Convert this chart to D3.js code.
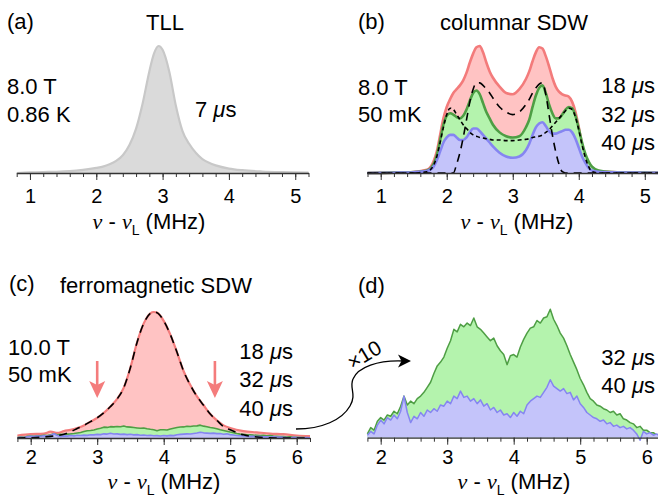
<!DOCTYPE html>
<html>
<head>
<meta charset="utf-8">
<script src="https://cdnjs.cloudflare.com/ajax/libs/d3/7.8.5/d3.min.js"></script>
<style>
  body { margin: 0; background: #fff; }
  svg { font-family: "Liberation Sans", Arial, sans-serif; }
  .axis path, .axis line { stroke: #333; }
  .axis path { stroke-width: 1.3px; }
</style>
</head>
<body>
<div id="chart"></div>
<script>
// ---- panel (a): TLL, 8.0 T, 0.86 K, 7 us
const aFreq = [0.8, 1.0, 1.2, 1.4, 1.6, 1.8, 2.0, 2.1, 2.2, 2.3, 2.4, 2.5, 2.6, 2.7, 2.8, 2.87, 2.94, 3.0, 3.1, 3.2, 3.3, 3.4, 3.5, 3.6, 3.7, 3.8, 4.0, 4.2, 4.5, 4.8, 5.2];
const aTLL  = [0.0, 0.005, 0.008, 0.01, 0.015, 0.025, 0.04, 0.05, 0.068, 0.095, 0.14, 0.22, 0.35, 0.55, 0.8, 0.94, 1.0, 0.97, 0.8, 0.53, 0.33, 0.23, 0.16, 0.11, 0.08, 0.06, 0.035, 0.022, 0.012, 0.007, 0.004];

// ---- panel (b): columnar SDW, 8.0 T, 50 mK
const bFreq = [0.8, 1.2, 1.5, 1.7,
  1.8, 1.85, 1.9, 1.95, 2.0, 2.05, 2.1, 2.15, 2.2, 2.25, 2.3, 2.35, 2.4, 2.45, 2.5, 2.55, 2.6, 2.65, 2.7,
  2.8, 2.9, 3.0, 3.1, 3.2,
  3.25, 3.3, 3.35, 3.4, 3.45, 3.5, 3.55, 3.6, 3.65, 3.7, 3.75, 3.8, 3.85, 3.9, 3.95, 4.0, 4.05, 4.1, 4.15, 4.2,
  4.3, 4.5, 5.0, 5.2];
const b18 = [0, 0.003, 0.008, 0.025,
  0.09, 0.17, 0.3, 0.43, 0.52, 0.58, 0.63, 0.66, 0.69, 0.73, 0.79, 0.87, 0.94, 0.99, 1.0, 0.95, 0.87, 0.8, 0.75,
  0.68, 0.63, 0.62, 0.66, 0.74,
  0.8, 0.88, 0.95, 0.99, 0.98, 0.92, 0.84, 0.75, 0.68, 0.64, 0.62, 0.61, 0.6, 0.56, 0.48, 0.36, 0.22, 0.12, 0.06, 0.03,
  0.015, 0.008, 0.003, 0.002];
const b32 = [0, 0.003, 0.008, 0.02,
  0.07, 0.14, 0.26, 0.38, 0.45, 0.47, 0.46, 0.44, 0.43, 0.45, 0.5, 0.57, 0.63, 0.65, 0.62, 0.55, 0.48, 0.43, 0.38,
  0.32, 0.29, 0.28, 0.29, 0.36,
  0.42, 0.52, 0.61, 0.67, 0.69, 0.63, 0.54, 0.47, 0.43, 0.43, 0.46, 0.5, 0.52, 0.51, 0.45, 0.35, 0.24, 0.15, 0.09, 0.05,
  0.02, 0.008, 0.003, 0.002];
const b40 = [0, 0.002, 0.006, 0.015,
  0.05, 0.1, 0.17, 0.24, 0.28, 0.3, 0.3, 0.28, 0.26, 0.26, 0.28, 0.32, 0.35, 0.35, 0.33, 0.3, 0.27, 0.24, 0.21,
  0.16, 0.13, 0.12, 0.13, 0.18,
  0.23, 0.3, 0.36, 0.39, 0.4, 0.37, 0.33, 0.31, 0.31, 0.32, 0.33, 0.34, 0.34, 0.32, 0.27, 0.2, 0.13, 0.08, 0.04, 0.02,
  0.01, 0.005, 0.002, 0.001];
// simulated spectra (dashed)
const bSimLong = [0, 0, 0, 0,
  0, 0, 0, 0, 0, 0, 0, 0.07, 0.16, 0.28, 0.42, 0.56, 0.66, 0.71, 0.71, 0.69, 0.66, 0.63, 0.59,
  0.52, 0.48, 0.46, 0.48, 0.54,
  0.58, 0.63, 0.67, 0.7, 0.71, 0.62, 0.46, 0.3, 0.17, 0.07, 0.01, 0, 0, 0, 0, 0, 0, 0, 0, 0,
  0, 0, 0, 0];
const bSimShort = [0, 0, 0, 0.01,
  0.06, 0.13, 0.24, 0.36, 0.46, 0.51, 0.5, 0.46, 0.42, 0.38, 0.35, 0.32, 0.3, 0.29, 0.28, 0.275, 0.27, 0.265, 0.26,
  0.26, 0.255, 0.255, 0.26, 0.265,
  0.27, 0.28, 0.285, 0.29, 0.3, 0.32, 0.34, 0.37, 0.4, 0.43, 0.46, 0.49, 0.51, 0.5, 0.44, 0.34, 0.22, 0.12, 0.05, 0.01,
  0, 0, 0, 0];

// ---- panel (c): ferromagnetic SDW, 10.0 T, 50 mK
const cFreq = [1.8, 2.0, 2.2, 2.3, 2.4, 2.5, 2.6, 2.7, 2.8, 2.9, 3.0, 3.1, 3.2, 3.3, 3.4, 3.5, 3.6, 3.7, 3.8, 3.85,
  3.9, 4.0, 4.1, 4.2, 4.3, 4.4, 4.5, 4.6, 4.7, 4.8, 4.9, 5.0, 5.2, 5.4, 5.6, 5.8, 6.0, 6.2];
const c18 = [0.02, 0.03, 0.035, 0.05, 0.04, 0.055, 0.065, 0.08, 0.1, 0.13, 0.16, 0.2, 0.25, 0.31, 0.4, 0.56, 0.76, 0.91, 0.99, 1.0,
  0.995, 0.93, 0.82, 0.68, 0.53, 0.42, 0.33, 0.26, 0.19, 0.14, 0.1, 0.08, 0.055, 0.045, 0.035, 0.03, 0.02, 0.015];
const cFit = [0, 0.002, 0.008, 0.013, 0.02, 0.03, 0.05, 0.075, 0.1, 0.13, 0.16, 0.2, 0.25, 0.31, 0.4, 0.56, 0.76, 0.91, 0.99, 1.0,
  0.995, 0.93, 0.82, 0.68, 0.53, 0.42, 0.33, 0.26, 0.19, 0.14, 0.09, 0.065, 0.025, 0.008, 0.002, 0, 0, 0];
const cArrowFreq = [3.0, 4.77];

// ---- panel (d): 32 us and 40 us spectra (x10 of panel c)
const dFreq = [
  1.80, 1.85, 1.90, 1.95, 2.00, 2.05, 2.10, 2.15, 2.20, 2.25,
  2.30, 2.35, 2.40, 2.45, 2.50, 2.55, 2.60, 2.65, 2.70, 2.75,
  2.80, 2.85, 2.90, 2.95, 3.00, 3.05, 3.10, 3.15, 3.20, 3.25,
  3.30, 3.35, 3.40, 3.45, 3.50, 3.55, 3.60, 3.65, 3.70, 3.75,
  3.80, 3.85, 3.90, 3.95, 4.00, 4.05, 4.10, 4.15, 4.20, 4.25,
  4.30, 4.35, 4.40, 4.45, 4.50, 4.55, 4.60, 4.65, 4.70, 4.75,
  4.80, 4.85, 4.90, 4.95, 5.00, 5.05, 5.10, 5.15, 5.20, 5.25,
  5.30, 5.35, 5.40, 5.45, 5.50, 5.55, 5.60, 5.65, 5.70, 5.75,
  5.80, 5.85, 5.90, 5.95, 6.00, 6.05, 6.10, 6.15, 6.20];
const d32 = [
  0.03, 0.08, 0.06, 0.13, 0.16, 0.14, 0.18, 0.17, 0.21, 0.19,
  0.25, 0.33, 0.26, 0.29, 0.27, 0.31, 0.33, 0.36, 0.40, 0.44,
  0.51, 0.57, 0.60, 0.64, 0.71, 0.77, 0.86, 0.84, 0.90, 0.88,
  0.91, 0.89, 0.95, 0.88, 0.86, 0.83, 0.80, 0.77, 0.79, 0.73,
  0.69, 0.66, 0.58, 0.65, 0.66, 0.64, 0.72, 0.78, 0.83, 0.87,
  0.88, 0.93, 0.91, 0.95, 0.96, 1.02, 0.94, 0.89, 0.83, 0.79,
  0.73, 0.66, 0.60, 0.54, 0.47, 0.42, 0.36, 0.31, 0.29, 0.26,
  0.25, 0.23, 0.22, 0.20, 0.21, 0.18, 0.19, 0.15, 0.14, 0.12,
  0.11, 0.08, 0.09, 0.06, 0.06, 0.04, 0.04, 0.02, 0.02];
const d40 = [
  0.02, 0.05, 0.03, 0.10, 0.14, 0.11, 0.16, 0.14, 0.18, 0.15,
  0.21, 0.33, 0.20, 0.12, 0.17, 0.15, 0.20, 0.17, 0.22, 0.20,
  0.23, 0.21, 0.26, 0.25, 0.29, 0.27, 0.33, 0.31, 0.37, 0.32,
  0.33, 0.29, 0.31, 0.27, 0.30, 0.25, 0.27, 0.22, 0.24, 0.20,
  0.22, 0.18, 0.19, 0.16, 0.20, 0.17, 0.21, 0.19, 0.26, 0.29,
  0.31, 0.33, 0.32, 0.36, 0.40, 0.46, 0.41, 0.39, 0.37, 0.39,
  0.35, 0.36, 0.30, 0.33, 0.27, 0.24, 0.20, 0.18, 0.16, 0.15,
  0.13, 0.14, 0.11, 0.12, 0.09, 0.10, 0.08, 0.09, 0.07, 0.08,
  0.06, 0.03, -0.02, 0.05, 0.03, 0.04, 0.02, 0.03, 0.01];

const topTicks = [1, 2, 3, 4, 5];
const bottomTicks = [2, 3, 4, 5, 6];

// colours
const red = {line: "#f37b7b", fill: "#ffc3c3"};
const green = {line: "#4e9e44", fill: "#b4f3ad"};
const blue = {line: "#8585f1", fill: "#c4c4fa"};
const grey = {line: "#c8c8c8", fill: "#dadada"};

const width = 658, height = 497;
const svg = d3.select("#chart").append("svg")
  .attr("width", width).attr("height", height)
  .attr("viewBox", [0, 0, width, height]);

// scales
const xA = d3.scaleLinear().domain([0.8, 5.2]).range([16.7, 308.5]);
const xB = d3.scaleLinear().domain([0.8, 5.2]).range([367.5, 658]);
const xC = d3.scaleLinear().domain([1.8, 6.2]).range([17.4, 310]);
const xD = d3.scaleLinear().domain([1.8, 6.2]).range([367.4, 660]);
const yTop = d3.scaleLinear().domain([0, 1]).range([173, 46]);
const yC = d3.scaleLinear().domain([0, 1]).range([438, 312]);
const yCsmall = d3.scaleLinear().domain([0, 10]).range([438, 312]); // 32/40 us on the 18 us scale
const yD = d3.scaleLinear().domain([0, 1]).range([437.7, 311.7]);

const zip = (xs, ys) => xs.map((f, i) => ({f: f, v: ys[i]}));

function drawSpectrum(x, y, xs, ys, col, lw, curve) {
  const data = zip(xs, ys);
  const area = d3.area().x(d => x(d.f)).y0(y(0)).y1(d => y(d.v)).curve(curve);
  const line = d3.line().x(d => x(d.f)).y(d => y(d.v)).curve(curve);
  svg.append("path").datum(data).attr("d", area).attr("fill", col.fill);
  svg.append("path").datum(data).attr("d", line)
    .attr("fill", "none").attr("stroke", col.line).attr("stroke-width", lw)
    .attr("stroke-linejoin", "round");
}

function drawDashed(x, y, xs, ys, dash) {
  svg.append("path").datum(zip(xs, ys))
    .attr("d", d3.line().x(d => x(d.f)).y(d => y(d.v)).curve(d3.curveMonotoneX))
    .attr("fill", "none").attr("stroke", "#000").attr("stroke-width", 1.6)
    .attr("stroke-dasharray", dash);
}

function drawAxis(x, y0, major, pad) {
  const [lo, hi] = x.domain();
  const minor = d3.range(Math.round(lo * 5), Math.round(hi * 5) + 1).map(k => k / 5);
  svg.append("g").attr("class", "axis")
    .attr("transform", `translate(0,${y0})`)
    .call(d3.axisBottom(x).tickValues(minor).tickSize(4).tickSizeOuter(0).tickFormat(""));
  const g = svg.append("g").attr("class", "axis")
    .attr("transform", `translate(0,${y0})`)
    .call(d3.axisBottom(x).tickValues(major).tickSize(7).tickSizeOuter(0).tickPadding(pad).tickFormat(d3.format("d")));
  g.select(".domain").remove();
  g.selectAll("text").attr("font-size", 20).attr("fill", "#000")
    .attr("font-family", "Liberation Sans, Arial, sans-serif");
}

function axisTitle(cx, by) {
  const t = svg.append("text").attr("x", cx).attr("y", by)
    .attr("text-anchor", "middle").attr("font-size", 22);
  t.append("tspan").attr("font-family", "Liberation Serif, Times New Roman, serif")
    .attr("font-style", "italic").text("ν");
  t.append("tspan").text(" - ");
  t.append("tspan").attr("font-family", "Liberation Serif, Times New Roman, serif")
    .attr("font-style", "italic").text("ν");
  t.append("tspan").attr("font-size", 14).attr("dy", 6).text("L");
  t.append("tspan").attr("dy", -6).text(" (MHz)");
}

function label(x, y, txt, anchor) {
  svg.append("text").attr("x", x).attr("y", y)
    .attr("text-anchor", anchor || "start").attr("font-size", 22).text(txt);
}

function muLabel(x, y, num, anchor) {
  const t = svg.append("text").attr("x", x).attr("y", y)
    .attr("text-anchor", anchor || "start").attr("font-size", 22);
  t.append("tspan").text(num + " ");
  t.append("tspan").attr("font-style", "italic").text("μ");
  t.append("tspan").text("s");
}

/* ---------- (a) ---------- */
drawSpectrum(xA, yTop, aFreq, aTLL, grey, 2.2, d3.curveMonotoneX);
drawAxis(xA, 173, topTicks, 9);
axisTitle(149, 229);
label(7, 29, "(a)");
label(165, 30, "TLL", "middle");
label(7, 94, "8.0 T");
label(7, 122, "0.86 K");
muLabel(195, 117, "7");

/* ---------- (b) ---------- */
drawSpectrum(xB, yTop, bFreq, b18, red, 2.6, d3.curveMonotoneX);
drawSpectrum(xB, yTop, bFreq, b32, green, 2.6, d3.curveMonotoneX);
drawSpectrum(xB, yTop, bFreq, b40, blue, 2.6, d3.curveMonotoneX);
drawDashed(xB, yTop, bFreq, bSimLong, "8,6");
drawDashed(xB, yTop, bFreq, bSimShort, "4,3");
drawAxis(xB, 173, topTicks, 9);
axisTitle(517, 229);
label(358, 29, "(b)");
label(514, 30, "columnar SDW", "middle");
label(358, 95, "8.0 T");
label(358, 122, "50 mK");
muLabel(655, 93, "18", "end");
muLabel(655, 122, "32", "end");
muLabel(655, 150, "40", "end");

/* ---------- (c) ---------- */
drawSpectrum(xC, yC, cFreq, c18, red, 2.2, d3.curveMonotoneX);
drawSpectrum(xC, yCsmall, dFreq, d32, green, 1.6, d3.curveLinear);
drawSpectrum(xC, yCsmall, dFreq, d40, blue, 1.6, d3.curveLinear);
drawDashed(xC, yC, cFreq, cFit, "8,6");
drawAxis(xC, 438, bottomTicks, 5);
axisTitle(164, 489);
label(9, 291, "(c)");
label(60, 293, "ferromagnetic SDW");
label(8, 355, "10.0 T");
label(8, 382, "50 mK");
muLabel(293, 359, "18", "end");
muLabel(293, 387, "32", "end");
muLabel(293, 416, "40", "end");

// pink arrows marking the satellite positions
cArrowFreq.forEach(f => {
  const ax = xC(f);
  svg.append("line").attr("x1", ax).attr("x2", ax).attr("y1", 361).attr("y2", 388)
    .attr("stroke", "#f47c7c").attr("stroke-width", 2.6);
  svg.append("path")
    .attr("d", `M${ax},398 L${ax - 8},381 L${ax},385 L${ax + 8},381 Z`)
    .attr("fill", "#f47c7c");
});

/* ---------- (d) ---------- */
drawSpectrum(xD, yD, dFreq, d32, green, 1.5, d3.curveLinear);
drawSpectrum(xD, yD, dFreq, d40, blue, 1.5, d3.curveLinear);
drawAxis(xD, 437.7, bottomTicks, 5);
axisTitle(514, 489);
label(358, 293, "(d)");
muLabel(655, 365, "32", "end");
muLabel(655, 393, "40", "end");

// x10 arrow from (c) to (d)
svg.append("path")
  .attr("d", "M296,429 C322,429 342,420 350,406 C357,394 349,388 353,379 C358,367 378,360 403,361")
  .attr("fill", "none").attr("stroke", "#000").attr("stroke-width", 1.3);
svg.append("path")
  .attr("d", "M411,361 L398,354.5 L401.5,361 L398,367.5 Z")
  .attr("fill", "#000");
svg.append("text")
  .attr("transform", "translate(368,361) rotate(-31)")
  .attr("text-anchor", "middle").attr("font-size", 21)
  .text("×10");
</script>
</body>
</html>
